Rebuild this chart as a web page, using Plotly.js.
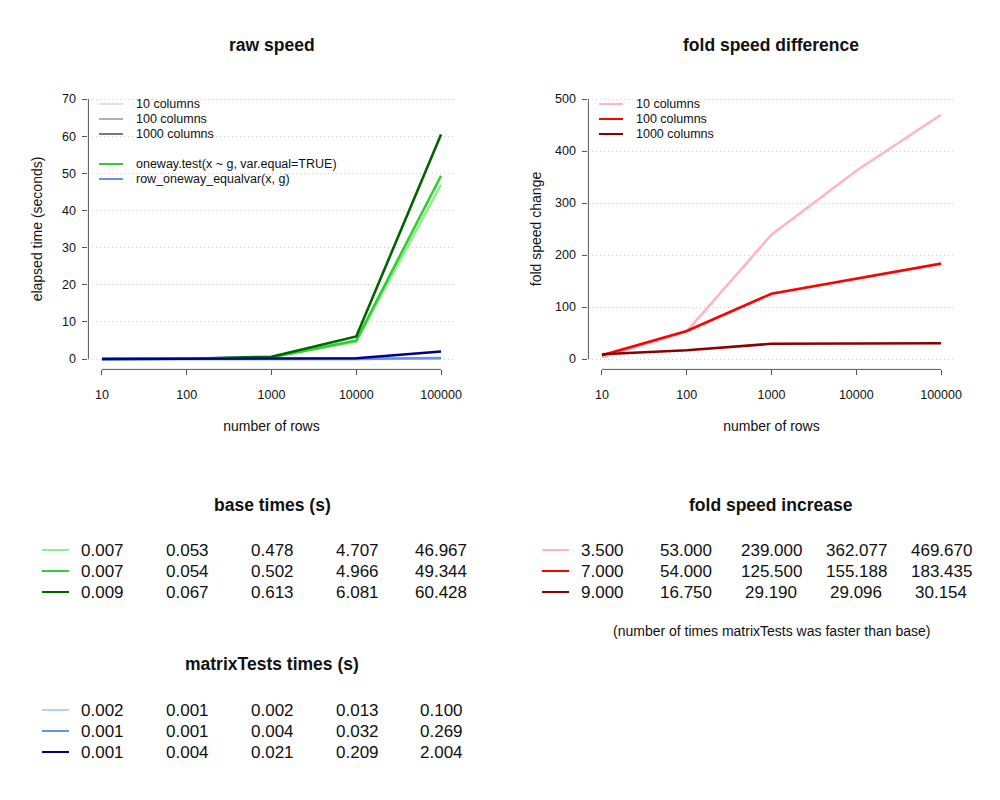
<!DOCTYPE html>
<html>
<head>
<meta charset="utf-8">
<script src="https://cdn.plot.ly/plotly-3.0.1.min.js"></script>
<style>html,body{margin:0;padding:0;background:#fff;}#chart{width:1000px;height:800px;}</style>
</head>
<body>
<div id="chart"></div>
<script>
// ---- data ----
const rows = [10, 100, 1000, 10000, 100000];
const rowLabels = ["10", "100", "1000", "10000", "100000"];
const colLabels = ["10 columns", "100 columns", "1000 columns"];
const base10   = [0.007, 0.053, 0.478, 4.707, 46.967];
const base100  = [0.007, 0.054, 0.502, 4.966, 49.344];
const base1000 = [0.009, 0.067, 0.613, 6.081, 60.428];
const mt10   = [0.002, 0.001, 0.002, 0.013, 0.100];
const mt100  = [0.001, 0.001, 0.004, 0.032, 0.269];
const mt1000 = [0.001, 0.004, 0.021, 0.209, 2.004];
const fold10   = [3.500, 53.000, 239.000, 362.077, 469.670];
const fold100  = [7.000, 54.000, 125.500, 155.188, 183.435];
const fold1000 = [9.000, 16.750, 29.190, 29.096, 30.154];

// ---- styles ----
const FONT = "Liberation Sans, Arial, Helvetica, sans-serif";
const greens = ["#90EE90", "#32CD32", "#006400"];
const blues  = ["#ADD8E6", "#6495ED", "#00008B"];
const reds   = ["#FFB6C1", "#FF0000", "#8B0000"];
const grays  = ["#E0E0E0", "#B0B0B0", "#7A7A7A"];
const LW = 2.6;

const traces = [];
[base10, base100, base1000].forEach((v, i) => traces.push({
  x: rows, y: v, type: "scatter", mode: "lines", name: "oneway.test " + colLabels[i],
  line: {color: greens[i], width: LW}, xaxis: "x", yaxis: "y", showlegend: false, hoverinfo: "x+y"
}));
[mt10, mt100, mt1000].forEach((v, i) => traces.push({
  x: rows, y: v, type: "scatter", mode: "lines", name: "row_oneway_equalvar " + colLabels[i],
  line: {color: blues[i], width: LW}, xaxis: "x", yaxis: "y", showlegend: false, hoverinfo: "x+y"
}));
[fold10, fold100, fold1000].forEach((v, i) => traces.push({
  x: rows, y: v, type: "scatter", mode: "lines", name: colLabels[i],
  line: {color: reds[i], width: LW}, xaxis: "x2", yaxis: "y2", showlegend: false, hoverinfo: "x+y"
}));

// ---- geometry (pixels -> paper) ----
const W = 1000, H = 800;
const px = x => x / W;
const py = y => 1 - y / H;
const yDom = [py(369.4), py(88.6)];
const xDom1 = [px(88.4), px(454.6)];
const xDom2 = [px(588.4), px(954.6)];
const colX1 = [102, 187, 272, 357, 441];
const colX2 = [602, 686, 771, 856, 941];

function xAxis(dom) {
  return {
    domain: dom, type: "log", range: [0.84, 5.16], tickvals: rows, ticktext: rowLabels,
    showgrid: false, zeroline: false, showline: false, ticks: "outside", ticklen: 5,
    tickcolor: "#555", tickwidth: 1, ticklabelstandoff: 9,
    tickfont: {family: FONT, size: 12.5, color: "#111"},
    title: {text: "number of rows", font: {family: FONT, size: 14, color: "#111"}, standoff: 19},
    automargin: false, fixedrange: true
  };
}
function yAxis(dom, range, dtick, title, anchor, standoff) {
  return {
    domain: dom, range: range, tick0: 0, dtick: dtick, anchor: anchor,
    showgrid: true, gridcolor: "#cfcfcf", griddash: "1px,3px", gridwidth: 1,
    zeroline: false, showline: false, ticks: "outside", ticklen: 5, tickcolor: "#555",
    ticklabelstandoff: 4,
    tickfont: {family: FONT, size: 12.5, color: "#111"},
    title: {text: title, font: {family: FONT, size: 14, color: "#111"}, standoff: standoff},
    automargin: false, fixedrange: true
  };
}

const shapes = [];
const annotations = [];

// axis lines (R style, only across tick range)
shapes.push({type: "line", xref: "x domain", yref: "y domain", x0: 0.037, x1: 0.963, y0: 0, y1: 0, line: {color: "#555", width: 1}});
shapes.push({type: "line", xref: "x domain", yref: "y", x0: 0, x1: 0, y0: 0, y1: 70, line: {color: "#555", width: 1}});
shapes.push({type: "line", xref: "x2 domain", yref: "y2 domain", x0: 0.037, x1: 0.963, y0: 0, y1: 0, line: {color: "#555", width: 1}});
shapes.push({type: "line", xref: "x2 domain", yref: "y2", x0: 0, x1: 0, y0: 0, y1: 500, line: {color: "#555", width: 1}});

function txt(text, x, y, size, opts) {
  annotations.push(Object.assign({
    text: text, xref: "paper", yref: "paper", x: px(x), y: py(y), showarrow: false,
    xanchor: "center", yanchor: "middle", font: {family: FONT, size: size, color: "#111"}
  }, opts || {}));
}
function seg(x0, x1, y, color, w) {
  shapes.push({type: "line", xref: "paper", yref: "paper", x0: px(x0), x1: px(x1), y0: py(y), y1: py(y), line: {color: color, width: w}});
}

// titles
txt("<b>raw speed</b>", 272, 45, 17.5);
txt("<b>fold speed difference</b>", 771, 45, 17.5);

// left in-plot legend
const leg1 = [[colLabels[0], grays[0], 104], [colLabels[1], grays[1], 119], [colLabels[2], grays[2], 134],
  ["oneway.test(x ~ g, var.equal=TRUE)", greens[1], 164], ["row_oneway_equalvar(x, g)", blues[1], 179]];
leg1.forEach(([t, c, y]) => { seg(99, 123, y, c, 2); txt(t, 134, y, 12.5, {xanchor: "left"}); });
// right in-plot legend
colLabels.forEach((t, i) => { const y = 104 + 15 * i; seg(599, 623, y, reds[i], 2); txt(t, 634, y, 12.5, {xanchor: "left"}); });

// tables
function table(title, tx, ty, cols, lineX, rowsY, series, colors) {
  txt("<b>" + title + "</b>", tx, ty, 17.5);
  series.forEach((s, i) => {
    seg(lineX, lineX + 27, rowsY[i], colors[i], 2);
    s.forEach((v, j) => txt(v.toFixed(3), cols[j], rowsY[i], 17));
  });
}
table("base times (s)", 272, 505, colX1, 42, [550, 571, 592], [base10, base100, base1000], greens);
table("fold speed increase", 771, 505, colX2, 542, [550, 571, 592], [fold10, fold100, fold1000], reds);
table("matrixTests times (s)", 272, 664, colX1, 42, [710, 731, 752], [mt10, mt100, mt1000], blues);
txt("(number of times matrixTests was faster than base)", 771, 631, 14);

const layout = {
  width: W, height: H, margin: {l: 0, r: 0, t: 0, b: 0},
  paper_bgcolor: "#fff", plot_bgcolor: "#fff", showlegend: false,
  font: {family: FONT, color: "#111"},
  xaxis: Object.assign(xAxis(xDom1), {anchor: "y"}),
  yaxis: yAxis(yDom, [-2.8, 72.8], 10, "elapsed time (seconds)", "x", 16),
  xaxis2: Object.assign(xAxis(xDom2), {anchor: "y2"}),
  yaxis2: yAxis(yDom, [-20, 520], 100, "fold speed change", "x2", 10),
  shapes: shapes, annotations: annotations
};

Plotly.newPlot("chart", traces, layout, {displayModeBar: false, staticPlot: true});
</script>
</body>
</html>
